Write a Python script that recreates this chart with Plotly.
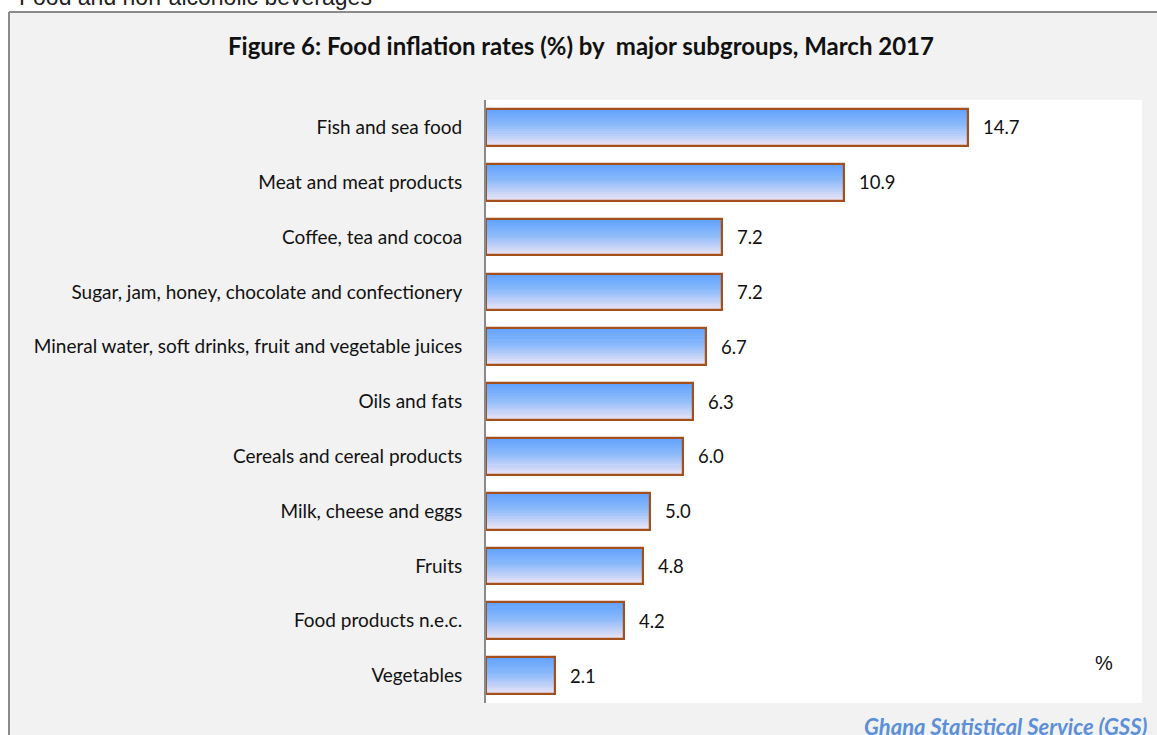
import plotly.graph_objects as go

categories = [
    "Fish and sea food",
    "Meat and meat products",
    "Coffee, tea and cocoa",
    "Sugar, jam, honey, chocolate and confectionery",
    "Mineral water, soft drinks, fruit and vegetable juices",
    "Oils and fats",
    "Cereals and cereal products",
    "Milk, cheese and eggs",
    "Fruits",
    "Food products n.e.c.",
    "Vegetables",
]
values = [14.7, 10.9, 7.2, 7.2, 6.7, 6.3, 6.0, 5.0, 4.8, 4.2, 2.1]

W, H = 1157, 735
L, R, T, B = 486, 15, 100, 32
PW, PH = W - L - R, H - T - B

def px_x(p):
    return (p - L) / PW

def px_y(p):
    return (H - B - p) / PH

fig = go.Figure()

# gradient stripes
N = 18
bw = 0.67
top = (96, 162, 255)
mid = (140, 186, 250)
bot = (238, 230, 246)

def lerp(a, b, t):
    return tuple(int(round(a[i] + (b[i] - a[i]) * t)) for i in range(3))

for i in range(N):
    t = (i + 0.5) / N
    if t < 0.45:
        c = lerp(top, mid, t / 0.45)
    else:
        c = lerp(mid, bot, (t - 0.45) / 0.55)
    fig.add_trace(go.Bar(
        x=values, y=categories, orientation="h",
        width=bw / N * 1.15, offset=-bw / 2 + i * bw / N,
        marker=dict(color=f"rgb{c}", line=dict(width=0)),
        hoverinfo="skip", showlegend=False,
    ))

fig.add_trace(go.Bar(
    x=values, y=categories, orientation="h",
    width=bw, offset=-bw / 2,
    marker=dict(color="rgba(0,0,0,0)", line=dict(color="#A3501C", width=2.2)),
    showlegend=False,
))

for c, v in zip(categories, values):
    fig.add_annotation(x=v, y=c, text=f"{v:.1f}", showarrow=False,
                       xanchor="left", xshift=13,
                       font=dict(family="Lato", size=18.5, color="#111"))

shapes = [
    # white strips outside the framed box
    dict(type="rect", xref="paper", yref="paper",
         x0=px_x(-5), x1=px_x(1170), y0=px_y(12), y1=px_y(-5),
         line=dict(width=0), fillcolor="white", layer="below"),
    dict(type="rect", xref="paper", yref="paper",
         x0=px_x(-5), x1=px_x(9), y0=px_y(750), y1=px_y(-5),
         line=dict(width=0), fillcolor="white", layer="below"),
    # frame lines
    dict(type="line", xref="paper", yref="paper",
         x0=px_x(9), x1=px_x(1170), y0=px_y(12), y1=px_y(12),
         line=dict(color="#8A8A8A", width=2)),
    dict(type="line", xref="paper", yref="paper",
         x0=px_x(9), x1=px_x(9), y0=px_y(12), y1=px_y(750),
         line=dict(color="#8A8A8A", width=2)),
]

annotations = [
    dict(xref="paper", yref="paper", x=px_x(581), y=px_y(46),
         text="<b>Figure 6: Food inflation rates (%) by  major subgroups, March 2017</b>",
         showarrow=False, xanchor="center", yanchor="middle",
         font=dict(family="Lato", size=24, color="#111")),
    dict(xref="paper", yref="paper", x=px_x(17), y=px_y(-3),
         text="Food and non-alcoholic beverages", showarrow=False,
         xanchor="left", yanchor="middle",
         font=dict(family="Liberation Sans", size=23, color="#222")),
    dict(xref="paper", yref="paper", x=px_x(1104), y=px_y(663),
         text="%", showarrow=False, xanchor="center", yanchor="middle",
         font=dict(family="Liberation Sans", size=20, color="#111")),
    dict(xref="paper", yref="paper", x=px_x(1149), y=px_y(726),
         text="<b><i>Ghana Statistical Service (GSS)</i></b>", showarrow=False,
         xanchor="right", yanchor="middle",
         font=dict(family="Lato", size=22, color="#5B8FD8")),
]
for a in annotations:
    fig.add_annotation(**a)

fig.update_layout(
    width=W, height=H,
    margin=dict(l=L, r=R, t=T, b=B, pad=0),
    paper_bgcolor="#F2F2F2", plot_bgcolor="white",
    barmode="overlay", bargap=0,
    shapes=shapes,
    font=dict(family="Lato", size=19, color="#111"),
    xaxis=dict(range=[0, 20], visible=False, fixedrange=True),
    yaxis=dict(autorange="reversed", showline=True, linecolor="#8A8A8A",
               linewidth=2, ticks="", showgrid=False, ticklabelstandoff=18,
               tickfont=dict(family="Lato", size=19, color="#111")),
)

fig.write_html("out.html", config={"displayModeBar": False},
               post_script="document.body.style.margin='0';document.body.style.overflow='hidden';")
